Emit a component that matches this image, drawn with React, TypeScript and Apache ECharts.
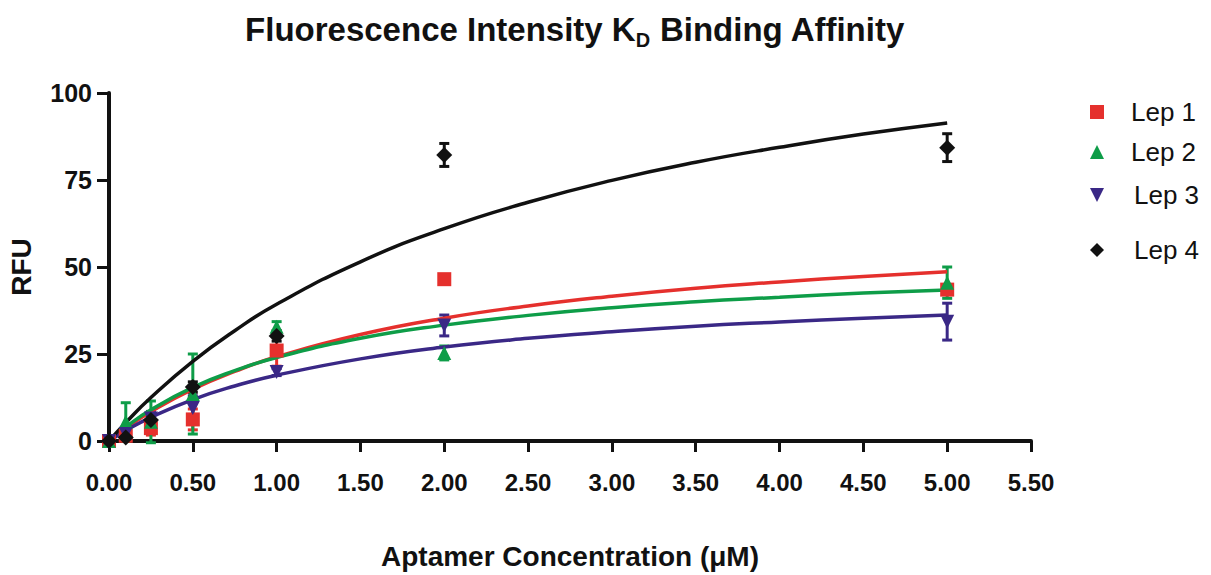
import React, { useEffect, useRef } from "react";
import * as echarts from "echarts";

const concentrations = [0, 0.1, 0.25, 0.5, 1, 2, 5];
const lep1Mean = [0, 1.5, 3.7, 6.2, 26, 46.5, 43.5];
const lep1Err = [0, 1, 2, 3, 4.5, 0, 0];
const lep2Mean = [0, 5.5, 5.5, 13.5, 32.8, 25.3, 45.5];
const lep2Err = [0, 5.5, 6, 11.5, 1.5, 2, 4.5];
const lep3Mean = [0, 2, 6.5, 9.5, 19.8, 33.2, 34.3];
const lep3Err = [0, 1.5, 2, 3.5, 1, 3, 5.3];
const lep4Mean = [0, 1, 6, 15.5, 30.2, 82.2, 84.3];
const lep4Err = [0, 0.5, 1, 1.5, 1.5, 3.3, 4];

const fitX = [0, 0.1, 0.25, 0.5, 0.75, 1, 1.5, 2, 2.5, 3, 3.5, 4, 4.5, 5];
const lep1Fit = [0, 3.65, 8.4, 14.9, 20.0, 24.2, 30.6, 35.3, 38.8, 41.6, 43.9, 45.7, 47.3, 48.6];
const lep2Fit = [0, 3.98, 8.97, 15.4, 20.2, 24.0, 29.5, 33.3, 36.1, 38.3, 40.0, 41.3, 42.5, 43.4];
const lep3Fit = [0, 2.98, 6.8, 11.9, 15.8, 18.9, 23.6, 27.0, 29.5, 31.4, 33.0, 34.2, 35.3, 36.2];
const lep4Fit = [0, 5.29, 12.5, 22.9, 31.7, 39.3, 51.5, 61.0, 68.6, 74.9, 80.1, 84.4, 88.2, 91.4];

const names = ["Lep 1", "Lep 2", "Lep 3", "Lep 4"];
const colors = ["#e5302d", "#0e9d48", "#3a2886", "#111111"];
const symbols = ["rect", "triangle", "triangle", "diamond"];
const rotations = [0, 0, 180, 0];
const sizes = [14, 14, 14, 16];
const legendIcons = ["rect", "triangle", "path://M0,0 L10,0 L5,10 Z", "diamond"];
const legendTops = [94, 134, 177, 232];
const legendTextPad = [22, 22, 25, 25];

const FONT = "'Liberation Sans', Arial, Helvetica, sans-serif";

export default function App() {
  const ref = useRef<HTMLDivElement>(null);
  useEffect(() => {
    if (!ref.current) return;
    const chart = echarts.init(ref.current, undefined, { renderer: "svg" });
    const means = [lep1Mean, lep2Mean, lep3Mean, lep4Mean];
    const errs = [lep1Err, lep2Err, lep3Err, lep4Err];
    const fits = [lep1Fit, lep2Fit, lep3Fit, lep4Fit];

    const series: any[] = [];
    names.forEach((n, i) => {
      const errData = concentrations
        .map((x, k) => [x, means[i][k] - errs[i][k], means[i][k] + errs[i][k], errs[i][k]])
        .filter((d) => d[3] > 0);
      series.push({
        name: n + " err",
        type: "custom",
        z: 2,
        silent: true,
        data: errData,
        renderItem: (params: any, api: any) => {
          const x = api.value(0);
          const lo = api.coord([x, api.value(1)]);
          const hi = api.coord([x, api.value(2)]);
          const hw = 5;
          const style = { stroke: colors[i], lineWidth: 3 };
          return {
            type: "group",
            children: [
              { type: "line", shape: { x1: lo[0], y1: lo[1], x2: hi[0], y2: hi[1] }, style },
              { type: "line", shape: { x1: hi[0] - hw, y1: hi[1], x2: hi[0] + hw, y2: hi[1] }, style },
              { type: "line", shape: { x1: lo[0] - hw, y1: lo[1], x2: lo[0] + hw, y2: lo[1] }, style },
            ],
          };
        },
      });
    });
    names.forEach((n, i) => {
      series.push({
        name: n + " fit",
        type: "line",
        z: 3,
        smooth: true,
        showSymbol: false,
        silent: true,
        lineStyle: { color: colors[i], width: 3.5 },
        data: fitX.map((x, k) => [x, fits[i][k]]),
      });
    });
    names.forEach((n, i) => {
      series.push({
        name: n,
        type: "scatter",
        z: 4,
        symbol: symbols[i],
        symbolRotate: rotations[i],
        symbolSize: sizes[i],
        itemStyle: { color: colors[i], opacity: 1 },
        data: concentrations.map((x, k) => [x, means[i][k]]),
      });
    });

    chart.setOption({
      animation: false,
      backgroundColor: "#ffffff",
      textStyle: { fontFamily: FONT },
      title: {
        text: "{t|Fluorescence Intensity K}{s|D}{t| Binding Affinity}",
        left: 570,
        textAlign: "center",
        top: 5,
        textStyle: {
          rich: {
            t: { fontFamily: FONT, fontSize: 33, fontWeight: "bold", color: "#111", lineHeight: 38 },
            s: { fontFamily: FONT, fontSize: 20, fontWeight: "bold", color: "#111", lineHeight: 20, padding: [22, 0, 0, 0] },
          },
        },
      },
      legend: names.map((n, i) => ({
        data: [{ name: n, icon: legendIcons[i], itemStyle: { color: colors[i] } }],
        left: 1085,
        top: legendTops[i],
        orient: "vertical",
        itemWidth: 14,
        itemHeight: 14,
        selectedMode: false,
        textStyle: { fontFamily: FONT, fontSize: 26, color: "#111", padding: [0, 0, 0, legendTextPad[i]] },
      })),
      grid: { left: 109, right: 180, top: 93, bottom: 134, containLabel: false, outerBoundsMode: "none" },
      xAxis: {
        type: "value",
        min: 0,
        max: 5.5,
        interval: 0.5,
        name: "Aptamer Concentration (μM)",
        nameLocation: "middle",
        nameGap: 101,
        nameTextStyle: { fontFamily: FONT, fontSize: 28, fontWeight: "bold", color: "#111" },
        axisLine: { lineStyle: { color: "#111", width: 4 } },
        axisTick: { length: 11, lineStyle: { color: "#111", width: 3 } },
        axisLabel: {
          formatter: (v: number) => v.toFixed(2),
          fontFamily: FONT,
          fontSize: 24,
          fontWeight: "bold",
          color: "#111",
          margin: 29,
        },
        splitLine: { show: false },
      },
      yAxis: {
        type: "value",
        min: 0,
        max: 100,
        interval: 25,
        name: "RFU",
        nameLocation: "middle",
        nameGap: 74,
        nameRotate: 90,
        nameTextStyle: { fontFamily: FONT, fontSize: 28, fontWeight: "bold", color: "#111" },
        axisLine: { show: true, lineStyle: { color: "#111", width: 4 } },
        axisTick: { show: true, length: 12, lineStyle: { color: "#111", width: 3 } },
        axisLabel: { fontFamily: FONT, fontSize: 25, fontWeight: "bold", color: "#111", margin: 17 },
        splitLine: { show: false },
      },
      series,
    });
    return () => chart.dispose();
  }, []);
  return (
    <div
      ref={ref}
      style={{ position: "absolute", left: 0, top: 0, width: 1211, height: 575, background: "#fff" }}
    />
  );
}
